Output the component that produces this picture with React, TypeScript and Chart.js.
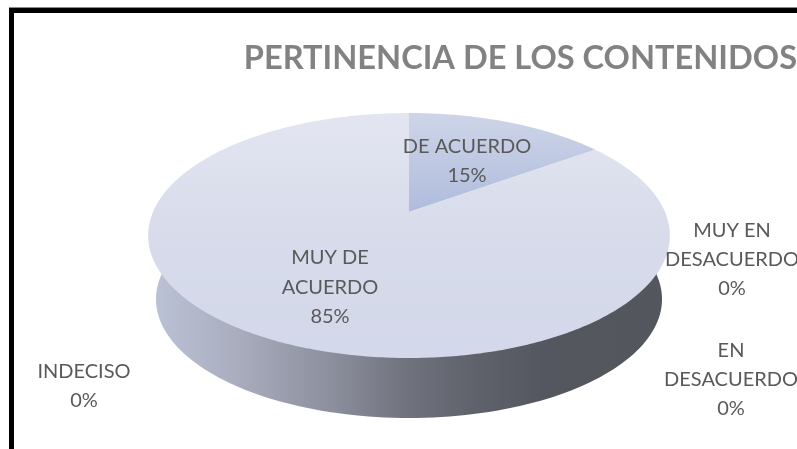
import React, { useEffect, useRef } from "react";
import { Chart, registerables } from "chart.js";

Chart.register(...registerables);

const TITLE = "PERTINENCIA DE LOS CONTENIDOS";
const categories = ["DE ACUERDO", "MUY DE ACUERDO", "INDECISO", "EN DESACUERDO", "MUY EN DESACUERDO"];
const values = [15, 85, 0, 0, 0];
const labelLines = [
  ["DE ACUERDO"],
  ["MUY DE", "ACUERDO"],
  ["INDECISO"],
  ["EN", "DESACUERDO"],
  ["MUY EN", "DESACUERDO"],
];

// Perspective of the tilted disc, relative to the Chart.js pie radius.
const K = -0.1918;
const SX = 2.56;
const SY = 1.18;
const DEPTH_SCALE = 0.97;
const DEPTH_Y = 64.4;

const labelAnchors = [
  { x: 467, y: 153, step: 29 },
  { x: 330, y: 264, step: 29.5 },
  { x: 84, y: 378, step: 29 },
  { x: 731, y: 357, step: 29 },
  { x: 732, y: 237, step: 29 },
];

const project = (a: any, t: number, s = 1, dy = 0) => {
  const u = Math.cos(t);
  const v = Math.sin(t);
  const w = 1 + K * v;
  return {
    x: a.x + (a.outerRadius * SX * s * u) / w,
    y: a.y + dy + (a.outerRadius * SY * s * v) / w,
  };
};

const pie3d = {
  id: "pie3d",
  beforeDraw(chart: any) {
    const { ctx, width, height } = chart;
    ctx.save();
    ctx.fillStyle = "#ffffff";
    ctx.fillRect(0, 0, width, height);
    ctx.fillStyle = "#8a8a8a";
    ctx.fillRect(9, 7, width - 9, 1);
    ctx.fillStyle = "#000000";
    ctx.fillRect(9, 8, width - 9, 5);
    ctx.fillRect(9, 8, 5, height - 8);
    ctx.restore();
  },
  beforeDatasetsDraw(chart: any) {
    const { ctx } = chart;
    const arcs = chart.getDatasetMeta(0).data;
    const first = arcs[0];
    ctx.save();

    // Side wall
    const wall = ctx.createLinearGradient(150, 0, 668, 0);
    wall.addColorStop(0, "#bcc3d7");
    wall.addColorStop(0.16, "#aaaebf");
    wall.addColorStop(0.35, "#8c8f9d");
    wall.addColorStop(0.49, "#71737e");
    wall.addColorStop(0.62, "#60636c");
    wall.addColorStop(0.76, "#54575f");
    wall.addColorStop(1, "#54565e");
    ctx.fillStyle = wall;
    ctx.beginPath();
    const n = 120;
    for (let i = 0; i <= n; i++) {
      const t = Math.PI + 0.02 - ((Math.PI + 0.04) * i) / n;
      const p = project(first, t, DEPTH_SCALE, DEPTH_Y);
      if (i === 0) ctx.moveTo(p.x, p.y);
      else ctx.lineTo(p.x, p.y);
    }
    const r = project(first, 0.34);
    ctx.lineTo(r.x, r.y);
    const l = project(first, Math.PI - 0.28);
    ctx.lineTo(l.x, l.y);
    ctx.closePath();
    ctx.fill();

    // Top face, one wedge per slice
    const topMain = ctx.createLinearGradient(0, 113, 0, 358);
    topMain.addColorStop(0, "#e3e6f1");
    topMain.addColorStop(0.5, "#d7dbea");
    topMain.addColorStop(1, "#d3d8ea");
    const topBlue = ctx.createLinearGradient(0, 113, 0, 212);
    topBlue.addColorStop(0, "#ced5e8");
    topBlue.addColorStop(1, "#afbcdd");
    const fills = [topBlue, topMain];
    arcs.forEach((a: any, idx: number) => {
      const span = a.endAngle - a.startAngle;
      if (span <= 0) return;
      ctx.fillStyle = fills[idx] || topMain;
      ctx.beginPath();
      ctx.moveTo(a.x, a.y);
      const m = Math.max(2, Math.ceil(span * 80));
      for (let i = 0; i <= m; i++) {
        const p = project(a, a.startAngle + (span * i) / m);
        ctx.lineTo(p.x, p.y);
      }
      ctx.closePath();
      ctx.fill();
    });
    ctx.restore();
    return false;
  },
  afterDraw(chart: any) {
    const { ctx } = chart;
    const total = values.reduce((s, v) => s + v, 0);
    ctx.save();
    ctx.font = "20px Lato";
    ctx.fillStyle = "#595959";
    ctx.textAlign = "center";
    ctx.textBaseline = "alphabetic";
    labelLines.forEach((lines, i) => {
      const a = labelAnchors[i];
      const all = [...lines, `${Math.round((values[i] / total) * 100)}%`];
      all.forEach((t, j) => ctx.fillText(t, a.x, a.y + j * a.step));
    });
    ctx.restore();
  },
};

export default function App() {
  const ref = useRef<HTMLCanvasElement>(null);
  useEffect(() => {
    const chart = new Chart(ref.current as HTMLCanvasElement, {
      type: "pie",
      data: {
        labels: categories,
        datasets: [{ data: values, backgroundColor: ["#b4c1de", "#d5daea", "#a5a5a5", "#ffc000", "#5b9bd5"], borderWidth: 0 }],
      },
      options: {
        responsive: false,
        animation: false,
        layout: { padding: { left: 21, right: 0, top: 0, bottom: 137 } },
        plugins: {
          legend: { display: false },
          tooltip: { enabled: false },
          title: {
            display: true,
            text: TITLE,
            align: "end",
            color: "#828282",
            font: { family: "Lato", size: 32.6, weight: "bold", lineHeight: 1.2 },
            padding: { top: 39, bottom: 112 - 39 - 32.6 * 1.2 },
          },
        },
      },
      plugins: [pie3d],
    } as any);
    return () => chart.destroy();
  }, []);
  return (
    <canvas
      ref={ref}
      width={797}
      height={449}
      style={{ position: "fixed", left: 0, top: 0, width: 797, height: 449, display: "block" }}
    />
  );
}
